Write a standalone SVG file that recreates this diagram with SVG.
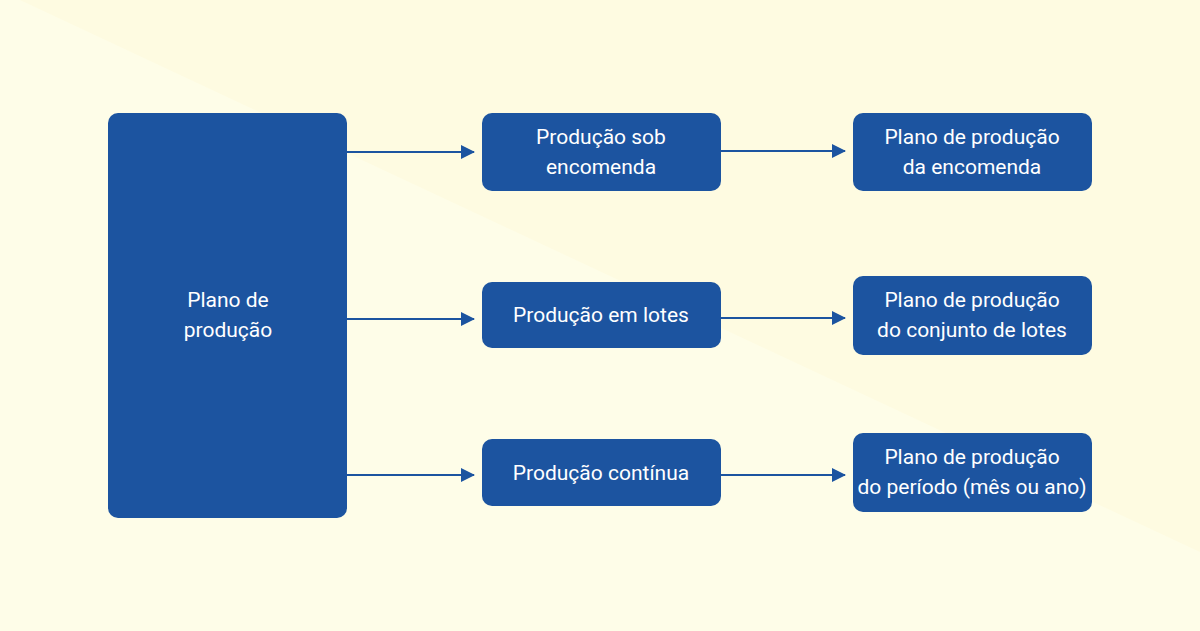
<svg xmlns="http://www.w3.org/2000/svg" width="1200" height="631" viewBox="0 0 1200 631">
<style>
.box{fill:#1C54A0}
.t{font-family:Roboto,"Liberation Sans",sans-serif;font-size:21px;fill:#ffffff;text-anchor:middle}
.c{stroke:#1C54A0;stroke-width:2;fill:none}
</style>
<defs>
<marker id="ah" markerWidth="14" markerHeight="14" refX="13" refY="7" orient="auto" markerUnits="userSpaceOnUse">
<path d="M0,0 L14,7 L0,14 Z" fill="#1C54A0"/>
</marker>
</defs>
<rect width="1200" height="631" fill="#FEFDE8"/>
<polygon points="20,0 1200,0 1200,552" fill="#FEFBE1"/>
<g id="connectors">
<line class="c" x1="347" y1="152" x2="474" y2="152" marker-end="url(#ah)"/>
<line class="c" x1="347" y1="319" x2="474" y2="319" marker-end="url(#ah)"/>
<line class="c" x1="347" y1="475" x2="474" y2="475" marker-end="url(#ah)"/>
<line class="c" x1="721" y1="151" x2="845" y2="151" marker-end="url(#ah)"/>
<line class="c" x1="721" y1="318" x2="845" y2="318" marker-end="url(#ah)"/>
<line class="c" x1="721" y1="475" x2="845" y2="475" marker-end="url(#ah)"/>
</g>
<g id="plano">
<rect class="box" x="108" y="113" width="239" height="405" rx="10"/>
<text class="t" x="228" y="307">Plano de</text>
<text class="t" x="228" y="337">produção</text>
</g>
<g id="sob-encomenda">
<rect class="box" x="482" y="113" width="239" height="78" rx="10"/>
<text class="t" x="601" y="144">Produção sob</text>
<text class="t" x="601" y="174">encomenda</text>
</g>
<g id="lotes">
<rect class="box" x="482" y="282" width="239" height="66" rx="10"/>
<text class="t" x="601" y="322">Produção em lotes</text>
</g>
<g id="continua">
<rect class="box" x="482" y="439" width="239" height="67" rx="10"/>
<text class="t" x="601" y="480">Produção contínua</text>
</g>
<g id="plano-encomenda">
<rect class="box" x="853" y="113" width="239" height="78" rx="10"/>
<text class="t" x="972" y="144">Plano de produção</text>
<text class="t" x="972" y="174">da encomenda</text>
</g>
<g id="plano-lotes">
<rect class="box" x="853" y="276" width="239" height="79" rx="10"/>
<text class="t" x="972" y="307">Plano de produção</text>
<text class="t" x="972" y="337">do conjunto de lotes</text>
</g>
<g id="plano-periodo">
<rect class="box" x="853" y="433" width="239" height="79" rx="10"/>
<text class="t" x="972" y="464">Plano de produção</text>
<text class="t" x="972" y="494">do período (mês ou ano)</text>
</g>
</svg>
